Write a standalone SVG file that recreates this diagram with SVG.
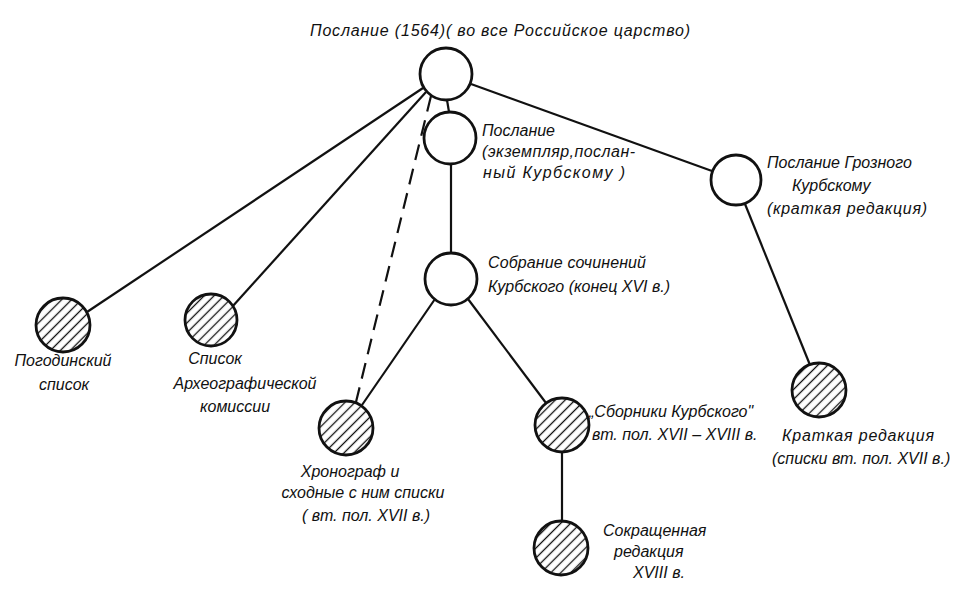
<svg xmlns="http://www.w3.org/2000/svg" width="976" height="592" viewBox="0 0 976 592">
<style>
.n{fill:#fff;stroke:#111;stroke-width:2.8}
.h{fill:url(#hatch);stroke:#111;stroke-width:2.8}
.e{stroke:#111;stroke-width:2.2;fill:none}
.d{stroke:#111;stroke-width:2.2;fill:none;stroke-dasharray:16 9}
text{font-family:"Liberation Sans","DejaVu Sans",sans-serif;font-style:italic;font-size:16px;fill:#111}
.c{text-anchor:middle}
</style>
<defs>
<pattern id="hatch" patternUnits="userSpaceOnUse" width="7" height="7" patternTransform="rotate(45)">
<rect width="7" height="7" fill="#fff"/>
<line x1="3.5" y1="0" x2="3.5" y2="7" stroke="#111" stroke-width="1.3"/>
</pattern>
</defs>
<rect width="976" height="592" fill="#fff"/>
<g id="connectors">
<line class="e" x1="423" y1="88" x2="87" y2="312"/>
<line class="e" x1="426" y1="92" x2="232" y2="307"/>
<line class="d" x1="431" y1="96" x2="356" y2="402"/>
<line class="e" x1="447" y1="100" x2="449" y2="112"/>
<line class="e" x1="471" y1="84" x2="712" y2="171"/>
<line class="e" x1="451" y1="164" x2="451" y2="253"/>
<line class="e" x1="435" y1="299" x2="362" y2="405"/>
<line class="e" x1="468" y1="299" x2="546" y2="403"/>
<line class="e" x1="562" y1="452" x2="562" y2="521"/>
<line class="e" x1="745" y1="204" x2="810" y2="365"/>
</g>
<g id="n-root">
<circle class="n" cx="446" cy="74" r="26"/>
<text x="310" y="36" font-size="17" textLength="380" lengthAdjust="spacing">Послание (1564)( во все Российское царство)</text>
</g>
<g id="n-kurbsky-copy">
<circle class="n" cx="450" cy="138" r="26"/>
<text x="482" y="136">Послание</text>
<text x="482" y="157" textLength="153" lengthAdjust="spacing">(экземпляр,послан-</text>
<text x="483" y="178" textLength="142" lengthAdjust="spacing">ный  Курбскому )</text>
</g>
<g id="n-grozny">
<circle class="n" cx="736" cy="180" r="25"/>
<text x="767" y="168">Послание Грозного</text>
<text x="792" y="191">Курбскому</text>
<text x="767" y="214" textLength="160" lengthAdjust="spacing">(краткая редакция)</text>
</g>
<g id="n-sobranie">
<circle class="n" cx="451" cy="279" r="26"/>
<text x="488" y="268" textLength="158" lengthAdjust="spacing">Собрание сочинений</text>
<text x="488" y="292">Курбского (конец XVI в.)</text>
</g>
<g id="n-pogodin">
<circle class="h" cx="63" cy="325" r="27"/>
<text class="c" x="63" y="366" font-size="17">Погодинский</text>
<text class="c" x="64" y="390" font-size="17">список</text>
</g>
<g id="n-arch">
<circle class="h" cx="211" cy="320" r="26"/>
<text class="c" x="215" y="364">Список</text>
<text class="c" x="245" y="389">Археографической</text>
<text class="c" x="235" y="412">комиссии</text>
</g>
<g id="n-chronograph">
<circle class="h" cx="346" cy="428" r="27"/>
<text class="c" x="350" y="477">Хронограф и</text>
<text class="c" x="363" y="498">сходные с ним списки</text>
<text class="c" x="366" y="521">( вт. пол. XVII в.)</text>
</g>
<g id="n-sborniki">
<circle class="h" cx="562" cy="425" r="27"/>
<text x="589" y="417">„Сборники Курбского"</text>
<text x="592" y="440">вт. пол. XVII – XVIII в.</text>
</g>
<g id="n-sokr">
<circle class="h" cx="561" cy="548" r="27"/>
<text x="603" y="536">Сокращенная</text>
<text x="614" y="557">редакция</text>
<text x="633" y="578">XVIII в.</text>
</g>
<g id="n-kratk">
<circle class="h" cx="819" cy="390" r="27"/>
<text x="782" y="441" textLength="152" lengthAdjust="spacing">Краткая редакция</text>
<text x="772" y="464">(списки вт. пол. XVII в.)</text>
</g>
</svg>
